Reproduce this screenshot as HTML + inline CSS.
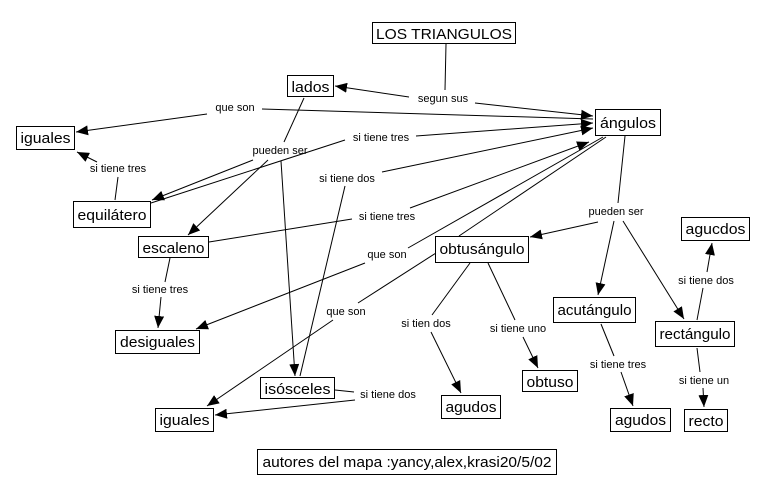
<!DOCTYPE html>
<html><head><meta charset="utf-8"><style>
html,body{margin:0;padding:0;background:#fff;}
svg{display:block;}
.n{font-family:"Liberation Sans",sans-serif;font-size:15px;fill:#000;}
.l{font-family:"Liberation Sans",sans-serif;font-size:11px;fill:#000;}
rect{fill:#fff;stroke:#000;stroke-width:1;}
line{stroke:#000;stroke-width:1;}
</style></head><body>
<svg width="764" height="494" viewBox="0 0 764 494" xmlns="http://www.w3.org/2000/svg">
<defs><marker id="a" viewBox="0 0 12 10" refX="12" refY="5" markerWidth="12" markerHeight="10" markerUnits="userSpaceOnUse" orient="auto"><path d="M0,0 L12,5 L0,10 z" fill="#000"/></marker></defs>
<g>
<!-- LOS TRIANGULOS -> segun sus -->
<line x1="446" y1="44" x2="445" y2="90"/>
<line x1="409" y1="97" x2="335" y2="86" marker-end="url(#a)"/>
<line x1="475" y1="103" x2="593" y2="116" marker-end="url(#a)"/>
<!-- angulos que son iguales -->
<line x1="593" y1="119" x2="262" y2="109"/>
<line x1="207" y1="114" x2="76" y2="132" marker-end="url(#a)"/>
<!-- equilatero si tiene tres iguales -->
<line x1="115" y1="200" x2="118" y2="177"/>
<line x1="97" y1="162" x2="77" y2="152" marker-end="url(#a)"/>
<!-- equilatero si tiene tres angulos -->
<line x1="151" y1="203" x2="345" y2="140"/>
<line x1="416" y1="136" x2="593" y2="123" marker-end="url(#a)"/>
<!-- lados pueden ser -->
<line x1="304" y1="98" x2="284" y2="142"/>
<line x1="253" y1="160" x2="152" y2="200" marker-end="url(#a)"/>
<line x1="268" y1="160" x2="188" y2="235" marker-end="url(#a)"/>
<line x1="281" y1="161" x2="295" y2="376" marker-end="url(#a)"/>
<!-- isosceles si tiene dos angulos -->
<line x1="300" y1="376" x2="345" y2="186"/>
<line x1="382" y1="172" x2="593" y2="128" marker-end="url(#a)"/>
<!-- escaleno si tiene tres angulos -->
<line x1="209" y1="242" x2="352" y2="219"/>
<line x1="410" y1="208" x2="589" y2="142" marker-end="url(#a)"/>
<!-- escaleno si tiene tres desiguales -->
<line x1="170" y1="258" x2="165" y2="282"/>
<line x1="161" y1="297" x2="158" y2="328" marker-end="url(#a)"/>
<!-- angulos que son desiguales -->
<line x1="603" y1="137" x2="408" y2="248"/>
<line x1="365" y1="263" x2="196" y2="329" marker-end="url(#a)"/>
<!-- obtusangulo to angulos -->
<line x1="459" y1="236" x2="606" y2="137"/>
<!-- obtusangulo que son iguales -->
<line x1="436" y1="253" x2="358" y2="303"/>
<line x1="333" y1="320" x2="207" y2="406" marker-end="url(#a)"/>
<!-- angulos pueden ser -->
<line x1="625" y1="136" x2="618" y2="203"/>
<line x1="598" y1="222" x2="530" y2="237" marker-end="url(#a)"/>
<line x1="614" y1="221" x2="598" y2="295" marker-end="url(#a)"/>
<line x1="623" y1="221" x2="684" y2="319" marker-end="url(#a)"/>
<!-- obtusangulo children -->
<line x1="470" y1="263" x2="432" y2="315"/>
<line x1="431" y1="332" x2="461" y2="393" marker-end="url(#a)"/>
<line x1="488" y1="263" x2="515" y2="320"/>
<line x1="523" y1="337" x2="538" y2="368" marker-end="url(#a)"/>
<!-- acutangulo -->
<line x1="601" y1="324" x2="614" y2="356"/>
<line x1="621" y1="372" x2="633" y2="406" marker-end="url(#a)"/>
<!-- rectangulo -->
<line x1="697" y1="320" x2="703" y2="288"/>
<line x1="707" y1="272" x2="712" y2="243" marker-end="url(#a)"/>
<line x1="697" y1="348" x2="700" y2="372"/>
<line x1="703" y1="388" x2="704" y2="407" marker-end="url(#a)"/>
<!-- isosceles si tiene dos iguales -->
<line x1="335" y1="390" x2="354" y2="392"/>
<line x1="355" y1="400" x2="215" y2="415" marker-end="url(#a)"/>
</g>
<!-- labels -->
<g class="l" text-anchor="middle">
<rect x="0" y="0" width="0" height="0" style="display:none"/>
<text x="443" y="102">segun sus</text>
<text x="235" y="111">que son</text>
<text x="381" y="141">si tiene tres</text>
<text x="280" y="154">pueden ser</text>
<text x="118" y="172">si tiene tres</text>
<text x="347" y="182">si tiene dos</text>
<text x="387" y="220">si tiene tres</text>
<text x="616" y="215">pueden ser</text>
<text x="387" y="258">que son</text>
<text x="160" y="293">si tiene tres</text>
<text x="346" y="315">que son</text>
<text x="426" y="327">si tien dos</text>
<text x="518" y="332">si tiene uno</text>
<text x="706" y="284">si tiene dos</text>
<text x="618" y="368">si tiene tres</text>
<text x="704" y="384">si tiene un</text>
<text x="388" y="398">si tiene dos</text>
</g>
<!-- nodes -->
<g class="n" text-anchor="middle">
<rect x="372.5" y="22.5" width="143" height="21"/><text x="444" y="39" textLength="136" lengthAdjust="spacingAndGlyphs">LOS TRIANGULOS</text>
<rect x="287.5" y="75.5" width="46" height="21"/><text x="310.5" y="92" textLength="38" lengthAdjust="spacingAndGlyphs">lados</text>
<rect x="595.5" y="109.5" width="65" height="26"/><text x="628" y="128" textLength="56" lengthAdjust="spacingAndGlyphs">ángulos</text>
<rect x="16.5" y="126.5" width="58" height="23"/><text x="45.5" y="143" textLength="50" lengthAdjust="spacingAndGlyphs">iguales</text>
<rect x="73.5" y="201.5" width="77" height="26"/><text x="112" y="220" textLength="69" lengthAdjust="spacingAndGlyphs">equilátero</text>
<rect x="138.5" y="236.5" width="70" height="21"/><text x="173.5" y="253" textLength="62" lengthAdjust="spacingAndGlyphs">escaleno</text>
<rect x="115.5" y="330.5" width="84" height="23"/><text x="157.5" y="347" textLength="75" lengthAdjust="spacingAndGlyphs">desiguales</text>
<rect x="260.5" y="377.5" width="74" height="21"/><text x="297.5" y="394" textLength="66" lengthAdjust="spacingAndGlyphs">isósceles</text>
<rect x="155.5" y="408.5" width="58" height="23"/><text x="184.5" y="425" textLength="50" lengthAdjust="spacingAndGlyphs">iguales</text>
<rect x="435.5" y="236.5" width="93" height="26"/><text x="482" y="254" textLength="85" lengthAdjust="spacingAndGlyphs">obtusángulo</text>
<rect x="553.5" y="297.5" width="82" height="25"/><text x="594.5" y="315" textLength="74" lengthAdjust="spacingAndGlyphs">acutángulo</text>
<rect x="655.5" y="321.5" width="79" height="25"/><text x="695" y="339" textLength="71" lengthAdjust="spacingAndGlyphs">rectángulo</text>
<rect x="681.5" y="217.5" width="68" height="23"/><text x="715.5" y="234" textLength="60" lengthAdjust="spacingAndGlyphs">agucdos</text>
<rect x="522.5" y="370.5" width="55" height="21"/><text x="550" y="387" textLength="47" lengthAdjust="spacingAndGlyphs">obtuso</text>
<rect x="441.5" y="395.5" width="59" height="23"/><text x="471" y="412" textLength="51" lengthAdjust="spacingAndGlyphs">agudos</text>
<rect x="610.5" y="408.5" width="60" height="23"/><text x="640.5" y="425" textLength="51" lengthAdjust="spacingAndGlyphs">agudos</text>
<rect x="684.5" y="409.5" width="43" height="22"/><text x="706" y="426" textLength="35" lengthAdjust="spacingAndGlyphs">recto</text>
<rect x="257.5" y="449.5" width="299" height="25"/><text x="407" y="467" textLength="289" lengthAdjust="spacingAndGlyphs">autores del mapa :yancy,alex,krasi20/5/02</text>
</g>
</svg>
</body></html>
